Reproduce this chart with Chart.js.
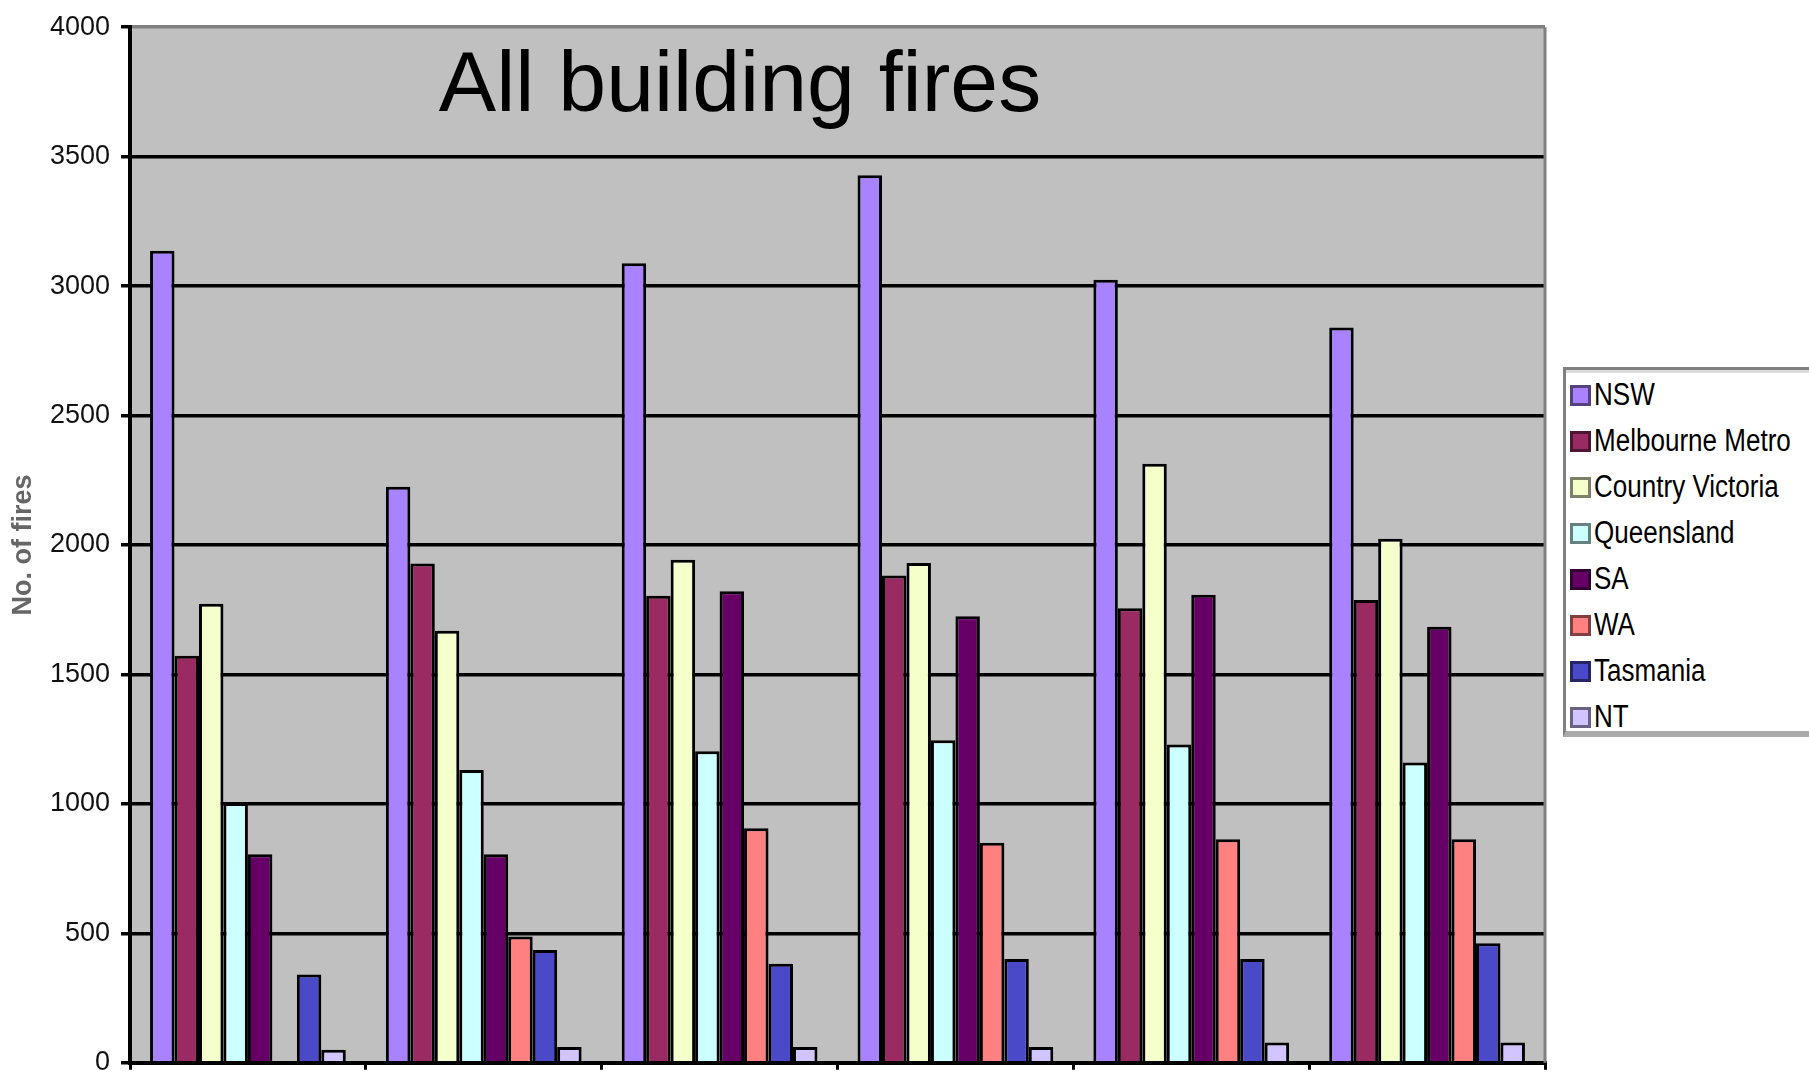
<!DOCTYPE html>
<html>
<head>
<meta charset="utf-8">
<title>All building fires</title>
<script src="https://cdn.jsdelivr.net/npm/chart.js@4"></script>
<style>
  html, body { margin: 0; padding: 0; background: #fff; overflow: hidden; }
  #wrap { position: relative; width: 1809px; height: 1090px; }
  #legend {
    position: absolute; left: 1563px; top: 367px; width: 280px; height: 370px;
    box-sizing: border-box; background: #fff;
    border-top: 3px solid #808080; border-left: 3px solid #808080; border-bottom: 6px solid #aaa;
    box-shadow: inset 0 3px 0 #dcdcdc;
    font-family: 'Liberation Sans', Arial, sans-serif; font-size: 31px;
  }
  .item { display: flex; align-items: center; height: 46px; white-space: nowrap; }
  .item:first-child { margin-top: 2px; }
  .sw { flex: none; width: 21px; height: 21px; box-sizing: border-box; border: 3px solid; margin-left: 4px; margin-right: 3px; }
  .txt { display: inline-block; transform: scaleX(0.84); transform-origin: left center; }
</style>
</head>
<body>
<div id="wrap">
  <canvas id="fires"></canvas>
  <div id="legend"></div>
</div>
<script>
// kategorier (x-etiketterna syns inte i bilden, de är bortklippta)
const periods = ['1', '2', '3', '4', '5', '6'];

// antal bränder per region
const nsw = [3137, 2225, 3088, 3428, 3025, 2840];
const melbourneMetro = [1572, 1929, 1804, 1882, 1756, 1788];
const countryVictoria = [1773, 1669, 1943, 1930, 2314, 2024];
const queensland = [1003, 1131, 1203, 1246, 1229, 1160];
const sa = [806, 806, 1821, 1725, 1808, 1684];
const wa = [null, 488, 906, 850, 863, 863];
const tasmania = [341, 436, 383, 401, 401, 462];
const nt = [50, 61, 61, 61, 78, 78];

const seriesNames = ['NSW', 'Melbourne Metro', 'Country Victoria', 'Queensland', 'SA', 'WA', 'Tasmania', 'NT'];
const seriesValues = [nsw, melbourneMetro, countryVictoria, queensland, sa, wa, tasmania, nt];

// y-axelns etiketter
const yTicks = [0, 500, 1000, 1500, 2000, 2500, 3000, 3500, 4000];

const colors = ['#A982FF', '#992A62', '#F5FFCC', '#CCFFFF', '#660066', '#FF8080', '#4A4AC8', '#D2C4FF'];

// mörkare kant till legend-rutorna
function darker(hex) {
  const n = parseInt(hex.slice(1), 16);
  const r = Math.round(((n >> 16) & 255) * 0.5);
  const g = Math.round(((n >> 8) & 255) * 0.5);
  const b = Math.round((n & 255) * 0.5);
  return `rgb(${r},${g},${b})`;
}

// grå bakgrund i plotytan + grå högerkant + rubrik
const plotArea = {
  id: 'plotArea',
  beforeDraw(chart) {
    const { ctx, chartArea: a } = chart;
    ctx.save();
    ctx.fillStyle = '#C0C0C0';
    ctx.fillRect(a.left, a.top, a.right - a.left, a.bottom - a.top);
    ctx.restore();
  },
  afterDraw(chart) {
    const { ctx, chartArea: a } = chart;
    ctx.save();
    ctx.strokeStyle = '#808080';
    ctx.lineWidth = 3;
    ctx.beginPath();
    ctx.moveTo(a.right, a.top);
    ctx.lineTo(a.right, a.bottom);
    ctx.stroke();
    // rubriken ligger inne i plotytan
    ctx.fillStyle = '#000';
    ctx.font = '86px "Liberation Sans", Arial, sans-serif';
    ctx.textAlign = 'center';
    ctx.textBaseline = 'alphabetic';
    ctx.fillText('All building fires', a.left + 610, a.top + 84);
    ctx.restore();
  }
};

const chart = new Chart(document.getElementById('fires'), {
  type: 'bar',
  data: {
    labels: periods,
    datasets: seriesNames.map((name, i) => ({
      label: name,
      data: seriesValues[i],
      backgroundColor: colors[i],
      borderColor: '#000',
      borderWidth: 3,
      categoryPercentage: 0.83,
      barPercentage: 1.0,
    })),
  },
  options: {
    responsive: true,
    maintainAspectRatio: false,
    animation: false,
    layout: { padding: { top: 24, right: 264, bottom: 0, left: 0 } },
    plugins: {
      legend: { display: false },
      tooltip: { enabled: false },
    },
    scales: {
      x: {
        ticks: { display: false },
        grid: { drawOnChartArea: false, drawTicks: true, tickLength: 7, color: '#000', lineWidth: 3 },
        border: { color: '#000', width: 4 },
      },
      y: {
        min: 0,
        max: 4000,
        afterBuildTicks: scale => { scale.ticks = yTicks.map(v => ({ value: v })); },
        afterFit: scale => { scale.width = 130; },
        ticks: {
          callback: v => String(v),
          color: '#111',
          padding: 11,
          font: { family: "'Liberation Sans', Arial", size: 27 },
        },
        grid: {
          color: c => (c.tick && c.tick.value === 4000 ? '#808080' : '#000'),
          tickColor: '#000',
          lineWidth: 3.5,
          tickLength: 9,
        },
        border: { color: '#000', width: 4 },
        title: {
          display: true,
          text: 'No. of fires',
          color: '#666',
          padding: { top: 7, bottom: 0 },
          font: { family: "'Liberation Sans', Arial", size: 27, weight: 'bold' },
        },
      },
    },
  },
  plugins: [plotArea],
});

// legend byggd från datasetten
const legend = document.getElementById('legend');
chart.data.datasets.forEach(ds => {
  const item = document.createElement('div');
  item.className = 'item';
  const sw = document.createElement('span');
  sw.className = 'sw';
  sw.style.background = ds.backgroundColor;
  sw.style.borderColor = darker(ds.backgroundColor);
  const txt = document.createElement('span');
  txt.className = 'txt';
  txt.textContent = ds.label;
  item.appendChild(sw);
  item.appendChild(txt);
  legend.appendChild(item);
});
</script>
</body>
</html>
